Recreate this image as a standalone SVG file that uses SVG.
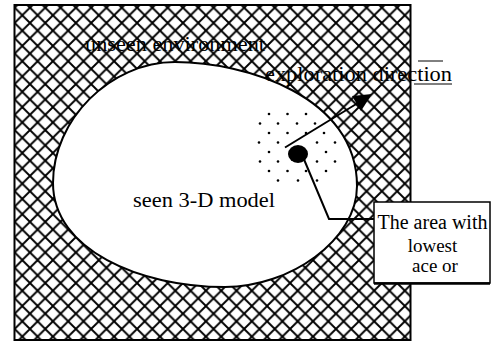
<svg xmlns="http://www.w3.org/2000/svg" width="491" height="343" viewBox="0 0 491 343">
<style>
.t{font-family:"Liberation Serif","Times New Roman",serif;fill:#000}
.ln{stroke:#000;fill:none}
.d{fill:#000}
</style>
<defs>
<pattern id="hatch" patternUnits="userSpaceOnUse" x="7" y="0" width="15.3" height="15.3">
<path d="M0 0L15.3 15.3M15.3 0L0 15.3M-1 14.3L1 16.3M14.3 -1L16.3 1" stroke="#000" stroke-width="1.9"/>
</pattern>
</defs>
<rect width="491" height="343" fill="#fff"/>
<g id="unseen-environment">
<rect x="14.5" y="5" width="396" height="335" fill="url(#hatch)" stroke="#000" stroke-width="2"/>
<text class="t" x="85" y="51" font-size="22" textLength="180" lengthAdjust="spacingAndGlyphs">unseen environment</text>
</g>
<g id="seen-model">
<path d="M53 183C53 120 110 62 175 62C245 62 357 96 357 186C357 240 290 287 225 287C140 287 53 250 53 183Z" fill="#fff" stroke="#000" stroke-width="2"/>
<text class="t" x="133" y="207" font-size="22" textLength="142" lengthAdjust="spacingAndGlyphs">seen 3-D model</text>
</g>
<g id="stipple">
<circle class="d" cx="269" cy="114" r="1.3"/><circle class="d" cx="287.5" cy="114" r="1.3"/><circle class="d" cx="306" cy="114" r="1.3"/>
<circle class="d" cx="260" cy="123.5" r="1.3"/><circle class="d" cx="278" cy="123.5" r="1.3"/><circle class="d" cx="297" cy="123.5" r="1.3"/><circle class="d" cx="315" cy="123.5" r="1.3"/>
<circle class="d" cx="269" cy="133" r="1.3"/><circle class="d" cx="287.5" cy="133" r="1.3"/><circle class="d" cx="306" cy="133" r="1.3"/><circle class="d" cx="324" cy="133" r="1.3"/>
<circle class="d" cx="259" cy="142.5" r="1.3"/><circle class="d" cx="278" cy="142.5" r="1.3"/><circle class="d" cx="317" cy="142.5" r="1.3"/><circle class="d" cx="335" cy="142.5" r="1.3"/>
<circle class="d" cx="269" cy="152" r="1.3"/><circle class="d" cx="326" cy="152" r="1.3"/>
<circle class="d" cx="260" cy="161.5" r="1.3"/><circle class="d" cx="278" cy="161.5" r="1.3"/><circle class="d" cx="317" cy="161.5" r="1.3"/><circle class="d" cx="335" cy="161.5" r="1.3"/>
<circle class="d" cx="269" cy="171" r="1.3"/><circle class="d" cx="287.5" cy="171" r="1.3"/><circle class="d" cx="306" cy="171" r="1.3"/><circle class="d" cx="326" cy="171" r="1.3"/>
<circle class="d" cx="278" cy="180.5" r="1.3"/><circle class="d" cx="298" cy="180.5" r="1.3"/><circle class="d" cx="317" cy="180.5" r="1.3"/>
</g>
<g id="lowest-area-point">
<ellipse cx="298" cy="154" rx="10" ry="9" fill="#000"/>
</g>
<g id="connectors">
<polyline class="ln" points="303,157 329,219 374,219" stroke-width="2"/>
<line class="ln" x1="285" y1="147.5" x2="362" y2="100.5" stroke-width="2"/>
<polygon points="372,94 361,111 352,96" fill="#000"/>
</g>
<g id="direction-label">
<text class="t" x="265" y="81" font-size="22" textLength="187" lengthAdjust="spacingAndGlyphs">exploration direction</text>
<line class="ln" x1="414" y1="84" x2="452" y2="84" stroke-width="1.2"/>
<line class="ln" x1="418" y1="61" x2="443" y2="61" stroke-width="1"/>
</g>
<g id="callout-box">
<rect x="374" y="202" width="116" height="81" fill="#fff" stroke="#000" stroke-width="1.5"/>
<line class="ln" x1="374" y1="283.5" x2="490" y2="283.5" stroke-width="2.5"/>
<text class="t" x="432.5" y="229" font-size="20" text-anchor="middle">The area with</text>
<text class="t" x="432.5" y="252" font-size="19" text-anchor="middle">lowest</text>
<text class="t" x="435" y="272" font-size="19" text-anchor="middle">ace or</text>
</g>
</svg>
